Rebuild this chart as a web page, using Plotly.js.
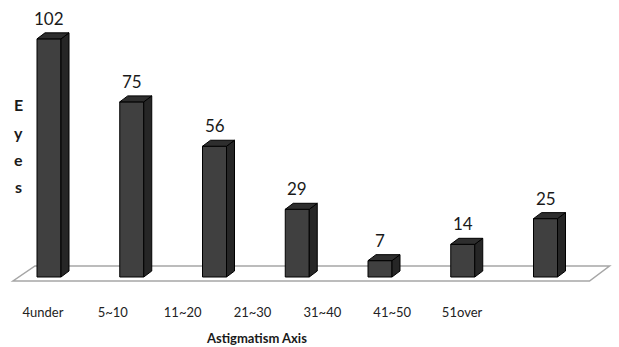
<!DOCTYPE html>
<html>
<head>
<meta charset="utf-8">
<script src="https://cdn.plot.ly/plotly-3.0.1.min.js"></script>
<style>html,body{margin:0;padding:0;background:#fff;}#chart{width:619px;height:347px;}</style>
</head>
<body>
<div id="chart"></div>
<script>
// ---- data ----
const categories = ["4under", "5~10", "11~20", "21~30", "31~40", "41~50", "51over"];
const eyes = [102, 75, 56, 29, 7, 14, 25];
const xTitle = "Astigmatism Axis";
const yTitleLetters = ["E", "y", "e", "s"];

// ---- geometry (styling) ----
const W = 619, H = 347;
const pxPerX = 82.75, x0px = 49;
const pxPerY = 2.335, y0px = 277;
const barW = 24 / pxPerX;
const dx = 8 / pxPerX, dy = 6 / pxPerY;
const n = categories.length;
const idx = categories.map((_, i) => i);

const xRange = [-x0px / pxPerX, (W - x0px) / pxPerX];
const yRange = [-(H - y0px) / pxPerY, y0px / pxPerY];

// side and top faces, built from data
const sideX = [], sideY = [], topX = [], topY = [];
eyes.forEach((v, i) => {
  const r = i + barW / 2, l = i - barW / 2;
  sideX.push(r, r, r + dx, r + dx, r, null);
  sideY.push(0, v, v + dy, dy, 0, null);
  topX.push(l, r, r + dx, l + dx, l, null);
  topY.push(v, v, v + dy, v + dy, v, null);
});

// floor
const fy0 = -4 / pxPerY, fy1 = 11 / pxPerY;
const fxl0 = -36 / pxPerX, fxr0 = (n - 1) + 44 / pxPerX;
const fxl1 = -14 / pxPerX, fxr1 = (n - 1) + 64 / pxPerX;
const floorPath = `M${fxl0},${fy0} L${fxr0},${fy0} L${fxr1},${fy1} L${fxl1},${fy1} Z`;

const FONT = "Lato, 'Open Sans', sans-serif";

const traces = [
  {
    type: "bar", x: idx, y: eyes, width: barW,
    marker: {color: "#404040", line: {color: "#000", width: 1}},
    hoverinfo: "skip", showlegend: false
  },
  {
    type: "scatter", mode: "lines", x: sideX, y: sideY, fill: "toself",
    fillcolor: "#262626", line: {color: "#000", width: 1},
    hoverinfo: "skip", showlegend: false
  },
  {
    type: "scatter", mode: "lines", x: topX, y: topY, fill: "toself",
    fillcolor: "#2e2e2e", line: {color: "#000", width: 1},
    hoverinfo: "skip", showlegend: false
  },
  {
    type: "scatter", mode: "markers", x: categories, y: eyes, xaxis: "x2",
    marker: {opacity: 0}, hoverinfo: "skip", showlegend: false
  }
];

const annotations = eyes.map((v, i) => ({
  x: i, y: v + dy, xref: "x", yref: "y", text: String(v),
  showarrow: false, yanchor: "bottom", yshift: 2,
  font: {family: FONT, size: 17, color: "#1a1a1a"}
}));
annotations.push({
  x: 256 / W, y: 1 - 338 / H, xref: "paper", yref: "paper", text: "<b>" + xTitle + "</b>",
  showarrow: false, xanchor: "center", yanchor: "middle",
  font: {family: FONT, size: 13, color: "#1a1a1a"}
});
yTitleLetters.forEach((c, k) => {
  annotations.push({
    x: 18 / W, y: 1 - (105 + 27 * k) / H, xref: "paper", yref: "paper", text: "<b>" + c + "</b>",
    showarrow: false, xanchor: "center", yanchor: "middle",
    font: {family: FONT, size: 16, color: "#1a1a1a"}
  });
});

const layout = {
  width: W, height: H,
  margin: {l: 0, r: 0, t: 0, b: 0},
  paper_bgcolor: "#fff", plot_bgcolor: "rgba(0,0,0,0)",
  showlegend: false,
  xaxis: {range: xRange, visible: false, fixedrange: true},
  xaxis2: {
    type: "category", anchor: "free", position: 1 - 303 / H,
    domain: [8 / W, 497 / W], range: [-0.5, n - 0.5],
    showgrid: false, zeroline: false, showline: false, ticks: "",
    tickfont: {family: FONT, size: 13, color: "#222"},
    fixedrange: true
  },
  yaxis: {range: yRange, visible: false, fixedrange: true},
  shapes: [{
    type: "path", xref: "x", yref: "y", path: floorPath, layer: "below",
    fillcolor: "#fff", line: {color: "#a6a6a6", width: 1.5}
  }],
  annotations: annotations
};

Plotly.newPlot("chart", traces, layout, {displayModeBar: false, staticPlot: true});
</script>
</body>
</html>
